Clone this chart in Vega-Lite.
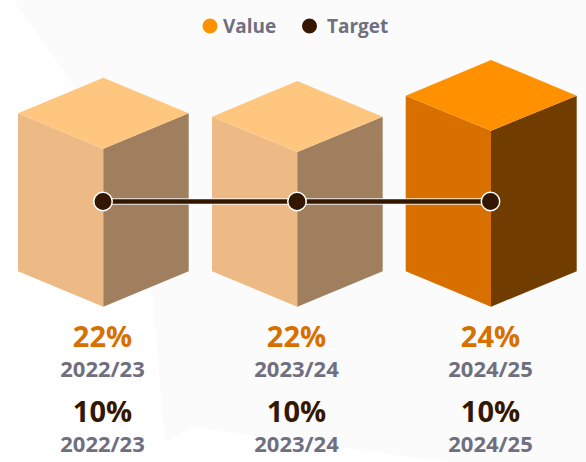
{
"$schema":"https://vega.github.io/schema/vega-lite/v6.json",
"width":586,"height":462,"padding":0,"autosize":{"type":"none"},
"background":"#ffffff",
"view":{"stroke":null},
"config":{"font":"Open Sans"},
"datasets":{
"backdrop":[
{"x":13,"top":0,"bottom":0},{"x":75,"top":0,"bottom":87},{"x":152,"top":0,"bottom":290},{"x":165,"top":0,"bottom":442},{"x":193,"top":0,"bottom":427},{"x":400,"top":0,"bottom":456},{"x":450,"top":0,"bottom":462},{"x":586,"top":0,"bottom":462}
],
"faces":[
{"piece":"2022/23 left","shade":"left muted","x":18,"top":113.3,"bottom":271.3},
{"piece":"2022/23 left","shade":"left muted","x":103.3,"top":148.7,"bottom":306.7},
{"piece":"2022/23 right","shade":"right muted","x":103.3,"top":148.7,"bottom":306.7},
{"piece":"2022/23 right","shade":"right muted","x":188.7,"top":113.3,"bottom":271.3},
{"piece":"2022/23 top","shade":"top muted","x":18,"top":113.3,"bottom":113.3},
{"piece":"2022/23 top","shade":"top muted","x":103.3,"top":77.7,"bottom":148.7},
{"piece":"2022/23 top","shade":"top muted","x":188.7,"top":113.3,"bottom":113.3},
{"piece":"2023/24 left","shade":"left muted","x":212,"top":116.7,"bottom":271.3},
{"piece":"2023/24 left","shade":"left muted","x":297.3,"top":152,"bottom":306.7},
{"piece":"2023/24 right","shade":"right muted","x":297.3,"top":152,"bottom":306.7},
{"piece":"2023/24 right","shade":"right muted","x":382.7,"top":116.7,"bottom":271.3},
{"piece":"2023/24 top","shade":"top muted","x":212,"top":116.7,"bottom":116.7},
{"piece":"2023/24 top","shade":"top muted","x":297.3,"top":81,"bottom":152},
{"piece":"2023/24 top","shade":"top muted","x":382.7,"top":116.7,"bottom":116.7},
{"piece":"2024/25 left","shade":"left","x":405.7,"top":95.7,"bottom":271.3},
{"piece":"2024/25 left","shade":"left","x":491,"top":130.7,"bottom":306.7},
{"piece":"2024/25 right","shade":"right","x":491,"top":130.7,"bottom":306.7},
{"piece":"2024/25 right","shade":"right","x":576.7,"top":95.7,"bottom":271.3},
{"piece":"2024/25 top","shade":"top","x":405.7,"top":95.7,"bottom":95.7},
{"piece":"2024/25 top","shade":"top","x":491,"top":60,"bottom":130.7},
{"piece":"2024/25 top","shade":"top","x":576.7,"top":95.7,"bottom":95.7}
],
"target":[
{"year":"2022/23","x":103,"y":201.5},
{"year":"2023/24","x":297,"y":201.5},
{"year":"2024/25","x":490.5,"y":201.5}
],
"labels":[
{"row":"value","x":102.5,"y":347,"text":"22%"},
{"row":"value","x":296.5,"y":347,"text":"22%"},
{"row":"value","x":490.5,"y":347,"text":"24%"},
{"row":"year","x":102.5,"y":377,"text":"2022/23"},
{"row":"year","x":296.5,"y":377,"text":"2023/24"},
{"row":"year","x":490.5,"y":377,"text":"2024/25"},
{"row":"target","x":102.5,"y":422,"text":"10%"},
{"row":"target","x":296.5,"y":422,"text":"10%"},
{"row":"target","x":490.5,"y":422,"text":"10%"},
{"row":"year","x":102.5,"y":452,"text":"2022/23"},
{"row":"year","x":296.5,"y":452,"text":"2023/24"},
{"row":"year","x":490.5,"y":452,"text":"2024/25"}
],
"legendRows":[
{"series":"Value","x":210,"y":26,"lx":223},
{"series":"Target","x":309.5,"y":26,"lx":327}
]
},
"layer":[
{"data":{"name":"backdrop"},"mark":{"type":"area","color":"#fbfbfc","interpolate":"linear"},
 "encoding":{"x":{"field":"x","type":"quantitative","scale":{"domain":[0,586],"nice":false,"zero":false},"axis":null},
 "y":{"field":"top","type":"quantitative","scale":{"domain":[462,0],"nice":false,"zero":false},"axis":null},
 "y2":{"field":"bottom"}}},
{"data":{"name":"faces"},"mark":{"type":"area","interpolate":"linear"},
 "encoding":{"x":{"field":"x","type":"quantitative","sort":null},
 "y":{"field":"top","type":"quantitative","stack":null},
 "y2":{"field":"bottom"},
 "detail":{"field":"piece"},
 "color":{"field":"shade","type":"nominal","legend":null,"scale":{
   "domain":["left muted","right muted","top muted","left","right","top"],
   "range":["#edb984","#a07f5e","#ffc680","#d87000","#703c00","#ff9000"]}}}},
{"data":{"name":"target"},"mark":{"type":"line","color":"#ffffff","strokeWidth":6.5,"opacity":0.85},
 "encoding":{"x":{"field":"x","type":"quantitative"},"y":{"field":"y","type":"quantitative"}}},
{"data":{"name":"target"},"mark":{"type":"line","color":"#331700","strokeWidth":4.5},
 "encoding":{"x":{"field":"x","type":"quantitative"},"y":{"field":"y","type":"quantitative"}}},
{"data":{"name":"target"},"mark":{"type":"point","filled":true,"fill":"#331700","stroke":"#ffffff","strokeWidth":1.5,"size":340,"opacity":1},
 "encoding":{"x":{"field":"x","type":"quantitative"},"y":{"field":"y","type":"quantitative"}}},
{"data":{"name":"labels"},"transform":[{"filter":"datum.row !== 'year'"}],"mark":{"type":"text","fontSize":29,"fontWeight":700,"align":"center","baseline":"alphabetic"},
 "encoding":{"x":{"field":"x","type":"quantitative"},"y":{"field":"y","type":"quantitative"},"text":{"field":"text"},
 "color":{"field":"row","type":"nominal","legend":null,"scale":{"domain":["value","target"],"range":["#d87000","#331700"]}}}},
{"data":{"name":"labels"},"transform":[{"filter":"datum.row === 'year'"}],"mark":{"type":"text","fontSize":22,"fontWeight":700,"align":"center","baseline":"alphabetic","color":"#6f6f7f"},
 "encoding":{"x":{"field":"x","type":"quantitative"},"y":{"field":"y","type":"quantitative"},"text":{"field":"text"}}},
{"data":{"name":"legendRows"},"mark":{"type":"point","filled":true,"stroke":"#ffffff","strokeWidth":2,"size":290,"opacity":1},
 "encoding":{"x":{"field":"x","type":"quantitative"},"y":{"field":"y","type":"quantitative"},
 "fill":{"field":"series","type":"nominal","legend":null,"scale":{"domain":["Value","Target"],"range":["#ff9000","#331700"]}}}},
{"data":{"name":"legendRows"},"mark":{"type":"text","fontSize":19,"fontWeight":700,"align":"left","baseline":"middle","dy":1,"color":"#6f6f7f"},
 "encoding":{"x":{"field":"lx","type":"quantitative"},"y":{"field":"y","type":"quantitative"},"text":{"field":"series"}}}
],
"resolve":{"scale":{"color":"independent"}}
}
